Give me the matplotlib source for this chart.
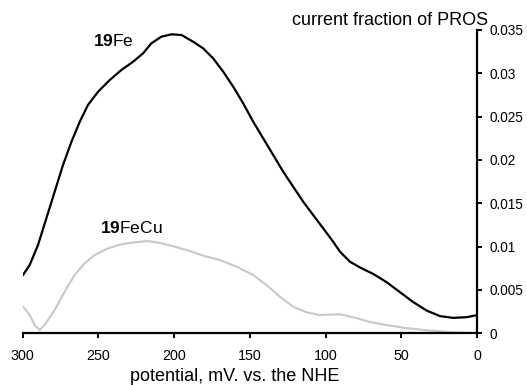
import numpy as np
import matplotlib
matplotlib.use("Agg")
from matplotlib import pyplot as plt

plt.rcParams['font.family'] = 'Liberation Sans'
plt.rcParams['mathtext.fontset'] = 'custom'
plt.rcParams['mathtext.rm'] = 'Liberation Sans'
plt.rcParams['mathtext.bf'] = 'Liberation Sans:bold'

# 19Fe curve (potential in mV, current fraction of PROS)
fe_mv = [299.8, 295.4, 289.9, 284.3, 278.9, 273.4, 267.8, 262.3, 256.9, 250.2,
         242.5, 234.8, 227.1, 220.5, 215.0, 208.4, 201.7, 195.1, 187.5, 180.9,
         174.3, 167.6, 161.0, 154.4, 147.8, 141.2, 134.6, 128.0, 121.4, 114.8,
         108.2, 101.6, 95.0, 90.5, 83.9, 77.3, 68.5, 59.7, 50.9, 42.1, 33.2,
         24.4, 15.7, 6.8, 1.3]
fe_val = [0.00673, 0.00788, 0.01019, 0.01331, 0.01634, 0.01942, 0.02211,
          0.02442, 0.02635, 0.02788, 0.02923, 0.03039, 0.03134, 0.03231,
          0.03347, 0.03423, 0.03450, 0.03442, 0.03365, 0.03289, 0.03174,
          0.03019, 0.02846, 0.02654, 0.02442, 0.02250, 0.02058, 0.01865,
          0.01692, 0.01519, 0.01365, 0.01212, 0.01057, 0.00942, 0.00826,
          0.00760, 0.00685, 0.00590, 0.00475, 0.00360, 0.00262, 0.00198,
          0.00178, 0.00186, 0.00205]

# 19FeCu curve
fecu_mv = [299.8, 295.4, 292.1, 288.8, 285.5, 278.9, 272.3, 265.7, 259.1,
           252.4, 243.6, 234.8, 226.0, 217.2, 208.4, 199.6, 191.8, 180.9,
           169.8, 158.8, 147.8, 139.0, 130.2, 121.4, 112.6, 103.8, 90.5, 81.7,
           70.7, 59.7, 46.5, 33.2, 15.7, 1.3]
fecu_val = [0.00307, 0.00211, 0.00096, 0.00038, 0.00096, 0.00269, 0.00480,
            0.00673, 0.00808, 0.00904, 0.00981, 0.01027, 0.01050, 0.01065,
            0.01039, 0.00999, 0.00961, 0.00896, 0.00846, 0.00769, 0.00673,
            0.00557, 0.00422, 0.00307, 0.00242, 0.00211, 0.00219, 0.00185,
            0.00130, 0.00095, 0.00060, 0.00035, 0.00012, 0.00002]

xticks = [300, 250, 200, 150, 100, 50, 0]
yticks = [0, 0.005, 0.01, 0.015, 0.02, 0.025, 0.03, 0.035]
ytick_labels = ['0', '0.005', '0.01', '0.015', '0.02', '0.025', '0.03', '0.035']

fig = plt.figure(figsize=(5.27, 3.85), dpi=100)
ax = fig.add_axes([0.0431, 0.1343, 0.862, 0.7878])

ax.plot(fecu_mv, fecu_val, color='#c8c8c8', lw=1.5, solid_joinstyle='round')
ax.plot(fe_mv, fe_val, color='black', lw=1.6, solid_joinstyle='round')

ax.set_xlim(300, 0)
ax.set_ylim(0, 0.035)
ax.set_xticks(xticks)
ax.set_xticklabels([str(t) for t in xticks])
ax.yaxis.tick_right()
ax.set_yticks(yticks)
ax.set_yticklabels(ytick_labels)

for s in ['top', 'left']:
    ax.spines[s].set_visible(False)
for s in ['bottom', 'right']:
    ax.spines[s].set_linewidth(1.6)
ax.tick_params(axis='both', direction='out', length=3.6, width=1.4,
               labelsize=10.3)
ax.tick_params(axis='x', pad=8)
ax.tick_params(axis='y', pad=5.5, labelsize=9.8)

fig.text(234.5 / 527, 4 / 385, 'potential, mV. vs. the NHE', fontsize=13,
         ha='center', va='baseline')
fig.text(488 / 527, 1 - 25 / 385, 'current fraction of PROS', fontsize=13,
         ha='right', va='baseline')

ax.text(253.6, 0.0331, r'$\mathbf{19}$Fe', fontsize=12.5, va='baseline')
ax.text(249.1, 0.01154, r'$\mathbf{19}$FeCu', fontsize=12.5, va='baseline')

fig.savefig('out.png', dpi=100)
